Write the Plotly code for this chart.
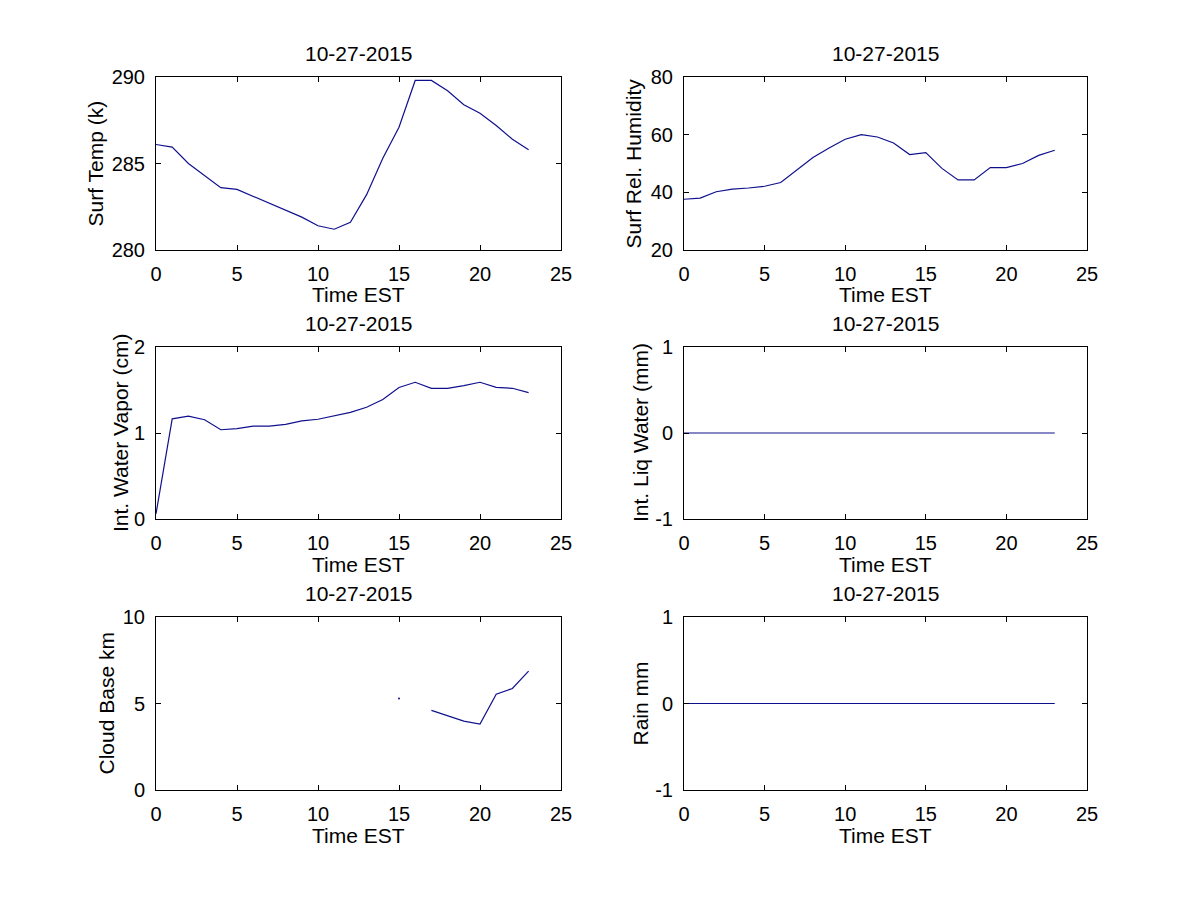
import plotly.graph_objects as go

hours = list(range(24))

surf_temp = [286.1, 285.95, 285.0, 284.3, 283.6, 283.5, 283.1, 282.7, 282.3, 281.9,
             281.4, 281.2, 281.6, 283.2, 285.3, 287.1, 289.8, 289.8, 289.2, 288.4,
             287.9, 287.2, 286.4, 285.8]
rel_humidity = [37.6, 38.0, 40.2, 41.1, 41.5, 42.1, 43.4, 47.7, 52.1, 55.4,
                58.4, 60.0, 59.2, 57.1, 53.1, 53.8, 48.3, 44.3, 44.3, 48.6,
                48.6, 50.0, 52.8, 54.6]
water_vapor = [0.06, 1.165, 1.196, 1.154, 1.038, 1.05, 1.08, 1.08, 1.10, 1.14,
               1.16, 1.20, 1.24, 1.30, 1.39, 1.53, 1.59, 1.52, 1.52, 1.55,
               1.59, 1.53, 1.52, 1.47]
liq_water = [0, 0, 0, 0, 0, 0, 0, 0, 0, 0, 0, 0, 0, 0, 0, 0, 0, 0, 0, 0, 0, 0, 0, 0]
cloud_base = [None, None, None, None, None, None, None, None, None, None,
              None, None, None, None, None, 5.29, None, 4.60, 4.27, 3.98,
              3.81, 5.54, 5.87, 6.87]
rain = [0, 0, 0, 0, 0, 0, 0, 0, 0, 0, 0, 0, 0, 0, 0, 0, 0, 0, 0, 0, 0, 0, 0, 0]

title_text = "10-27-2015"
xlabel_text = "Time EST"
ylabels = ["Surf Temp (k)", "Surf Rel. Humidity", "Int. Water Vapor (cm)",
           "Int. Liq Water (mm)", "Cloud Base km", "Rain mm"]
x_ticks = [0, 5, 10, 15, 20, 25]
y_ticks = [[280, 285, 290], [20, 40, 60, 80], [0, 1, 2], [-1, 0, 1], [0, 5, 10], [-1, 0, 1]]
y_ticklabels = [["280", "285", "290"], ["20", "40", "60", "80"], ["0", "1", "2"],
                ["-1", "0", "1"], ["0", "5", "10"], ["-1", "0", "1"]]
series = [surf_temp, rel_humidity, water_vapor, liq_water, cloud_base, rain]

# page body offset of the plot div (browser default margin)
OFF = 8
W, H = 1184, 884
col_px = [(156, 561), (684, 1087)]
row_px = [(77, 250), (347, 519), (617, 790)]
ylabel_x_px = [95, 633, 120, 640, 106, 640]
LINE_COLOR = "#10108e"


def fx(px):
    return (px - OFF) / W


def fy(py):
    return 1 - (py - OFF) / H


FONT = "Liberation Sans, Arial, Helvetica, sans-serif"
fig = go.Figure()
annotations = []

for i, ys in enumerate(series):
    r, c = divmod(i, 2)
    x0, x1 = col_px[c]
    t, b = row_px[r]
    xa = "xaxis" if i == 0 else f"xaxis{i+1}"
    ya = "yaxis" if i == 0 else f"yaxis{i+1}"
    xr = "x" if i == 0 else f"x{i+1}"
    yr = "y" if i == 0 else f"y{i+1}"
    fig.add_trace(go.Scatter(x=hours, y=ys, mode="lines", xaxis=xr, yaxis=yr,
                             line=dict(color=LINE_COLOR, width=1.2), connectgaps=False,
                             showlegend=False, hoverinfo="skip"))
    # isolated points (neighbours missing) drawn as tiny dots
    iso_x, iso_y = [], []
    for k, v in enumerate(ys):
        if v is None:
            continue
        prev_none = k == 0 or ys[k-1] is None
        next_none = k == len(ys) - 1 or ys[k+1] is None
        if prev_none and next_none:
            iso_x.append(hours[k]); iso_y.append(v)
    if iso_x:
        fig.add_trace(go.Scatter(x=iso_x, y=iso_y, mode="markers", xaxis=xr, yaxis=yr,
                                 marker=dict(color=LINE_COLOR, size=2),
                                 showlegend=False, hoverinfo="skip"))
    axis_common = dict(showgrid=False, zeroline=False, showline=True, linecolor="black",
                       linewidth=1, mirror="ticks", ticks="inside", ticklen=5,
                       tickcolor="black", tickfont=dict(family=FONT, size=20, color="black"),
                       ticklabelstandoff=6, fixedrange=True, automargin=False)
    fig.update_layout({
        xa: dict(domain=[fx(x0), fx(x1)], range=[0, 25], tickvals=x_ticks,
                 anchor=yr, **axis_common),
        ya: dict(domain=[fy(b), fy(t)], range=[y_ticks[i][0], y_ticks[i][-1]],
                 tickvals=y_ticks[i], ticktext=y_ticklabels[i], anchor=xr, **axis_common),
    })
    cx = (x0 + x1) / 2
    annotations.append(dict(text=title_text, x=fx(cx), y=fy(t - 24), xref="paper",
                            yref="paper", showarrow=False, xanchor="center", yanchor="middle",
                            font=dict(family=FONT, size=21, color="black")))
    annotations.append(dict(text=xlabel_text, x=fx(cx), y=fy(b + 45), xref="paper",
                            yref="paper", showarrow=False, xanchor="center", yanchor="middle",
                            font=dict(family=FONT, size=21, color="black")))
    annotations.append(dict(text=ylabels[i], x=fx(ylabel_x_px[i]), y=fy((t + b) / 2),
                            xref="paper", yref="paper", showarrow=False, textangle=-90,
                            xanchor="center", yanchor="middle",
                            font=dict(family=FONT, size=21, color="black")))

fig.update_layout(width=W, height=H, margin=dict(l=0, r=0, t=0, b=0, autoexpand=False),
                  paper_bgcolor="white", plot_bgcolor="white", annotations=annotations,
                  font=dict(family=FONT, size=20, color="black"))

fig.write_html("out.html", config={"displayModeBar": False})
